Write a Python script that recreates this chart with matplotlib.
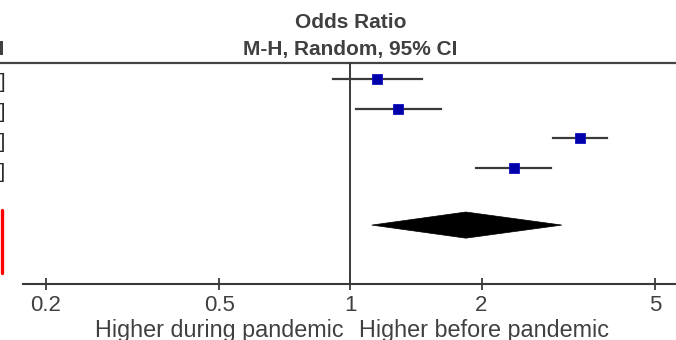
import matplotlib
matplotlib.use("Agg")
import matplotlib.pyplot as plt
from matplotlib.patches import Polygon
from matplotlib.lines import Line2D
from matplotlib.transforms import blended_transform_factory

plt.rcParams['font.family'] = ['Liberation Sans', 'DejaVu Sans']

# ---- data ----
study_or = [1.15, 1.285, 3.356, 2.372]
study_lo = [0.914, 1.03, 2.914, 1.941]
study_hi = [1.459, 1.613, 3.877, 2.884]
pooled_or = 1.841
pooled_lo = 1.12
pooled_hi = 3.057
tick_values = [0.2, 0.5, 1, 2, 5]
tick_labels = ['0.2', '0.5', '1', '2', '5']
header_top = 'Odds Ratio'
header_sub = 'M-H, Random, 95% CI'
left_label = 'Higher during pandemic'
right_label = 'Higher before pandemic'

# ---- layout ----
fig = plt.figure(figsize=(6.76, 3.40), dpi=100)
ax = fig.add_axes([0, 0, 1, 1])
ax.set_xscale('log')
ax.set_xlim(0.1571, 5.587)
ax.set_ylim(8.79, -2.66)
ax.patch.set_alpha(0)

line_col = '#3a3a3a'
text_col = '#404040'
y_axis = 6.91
y_top = -0.53
y_pooled = 4.92

# spines
for s in ['top', 'left', 'right']:
    ax.spines[s].set_visible(False)
ax.spines['bottom'].set_position(('data', y_axis))
ax.spines['bottom'].set_bounds(0.1774, 10)
ax.spines['bottom'].set_color(line_col)
ax.spines['bottom'].set_linewidth(1.5)
ax.yaxis.set_visible(False)
ax.set_xticks(tick_values)
ax.set_xticklabels(tick_labels)
ax.minorticks_off()
ax.tick_params(axis='x', which='major', direction='inout', length=8.6, width=1.3,
               color=line_col, pad=3.2, labelsize=16, labelcolor=text_col)

# top header line and reference line
ax.axhline(y_top, color='#444444', lw=1.6)
ax.plot([1, 1], [y_top, y_axis], color=line_col, lw=1.4)

# studies
rows = list(range(len(study_or)))
for i in rows:
    ax.plot([study_lo[i], study_hi[i]], [i, i], color=line_col, lw=1.6, zorder=3)
ax.plot(study_or, rows, 's', color='#0000AA', markersize=7.8,
        markeredgecolor='#1010C0', markeredgewidth=0.6, zorder=4)

# pooled diamond
h = 0.44
diamond = Polygon([(pooled_lo, y_pooled), (pooled_or, y_pooled - h),
                   (pooled_hi, y_pooled), (pooled_or, y_pooled + h)],
                  closed=True, facecolor='black', edgecolor='black', lw=0.5, zorder=4)
ax.add_patch(diamond)

# headers
ax.text(1, -1.72, header_top, ha='center', va='baseline', fontsize=15,
        fontweight='bold', color=text_col)
ax.text(1, -0.81, header_sub, ha='center', va='baseline', fontsize=15,
        fontweight='bold', color=text_col)

# bottom direction labels
ax.annotate(left_label, xy=(1, 8.68), xytext=(-4.5, 0), textcoords='offset points',
            ha='right', va='baseline', fontsize=16.8, color=text_col)
ax.annotate(right_label, xy=(1, 8.68), xytext=(6.2, 0), textcoords='offset points',
            ha='left', va='baseline', fontsize=16.8, color=text_col)

# clipped remnants of the left table (CI column)
trans = blended_transform_factory(fig.transFigure, ax.transData)
ax.text(4 / 676, -0.81, '95% CI', transform=trans, ha='right', va='baseline',
        fontsize=15, fontweight='bold', color=text_col)
for i in rows:
    ax.text(5.5 / 676, i + 0.32, f'{study_or[i]:.2f} [{study_lo[i]:.2f}, {study_hi[i]:.2f}]',
            transform=trans, ha='right', va='baseline', fontsize=15, color='#2a2a2a')
ax.add_line(Line2D([1.5 / 676, 1.5 / 676], [4.41, 6.53], transform=trans,
                   color='#ff0000', lw=2.4, solid_capstyle='round'))

fig.savefig('out.png', dpi=100)
